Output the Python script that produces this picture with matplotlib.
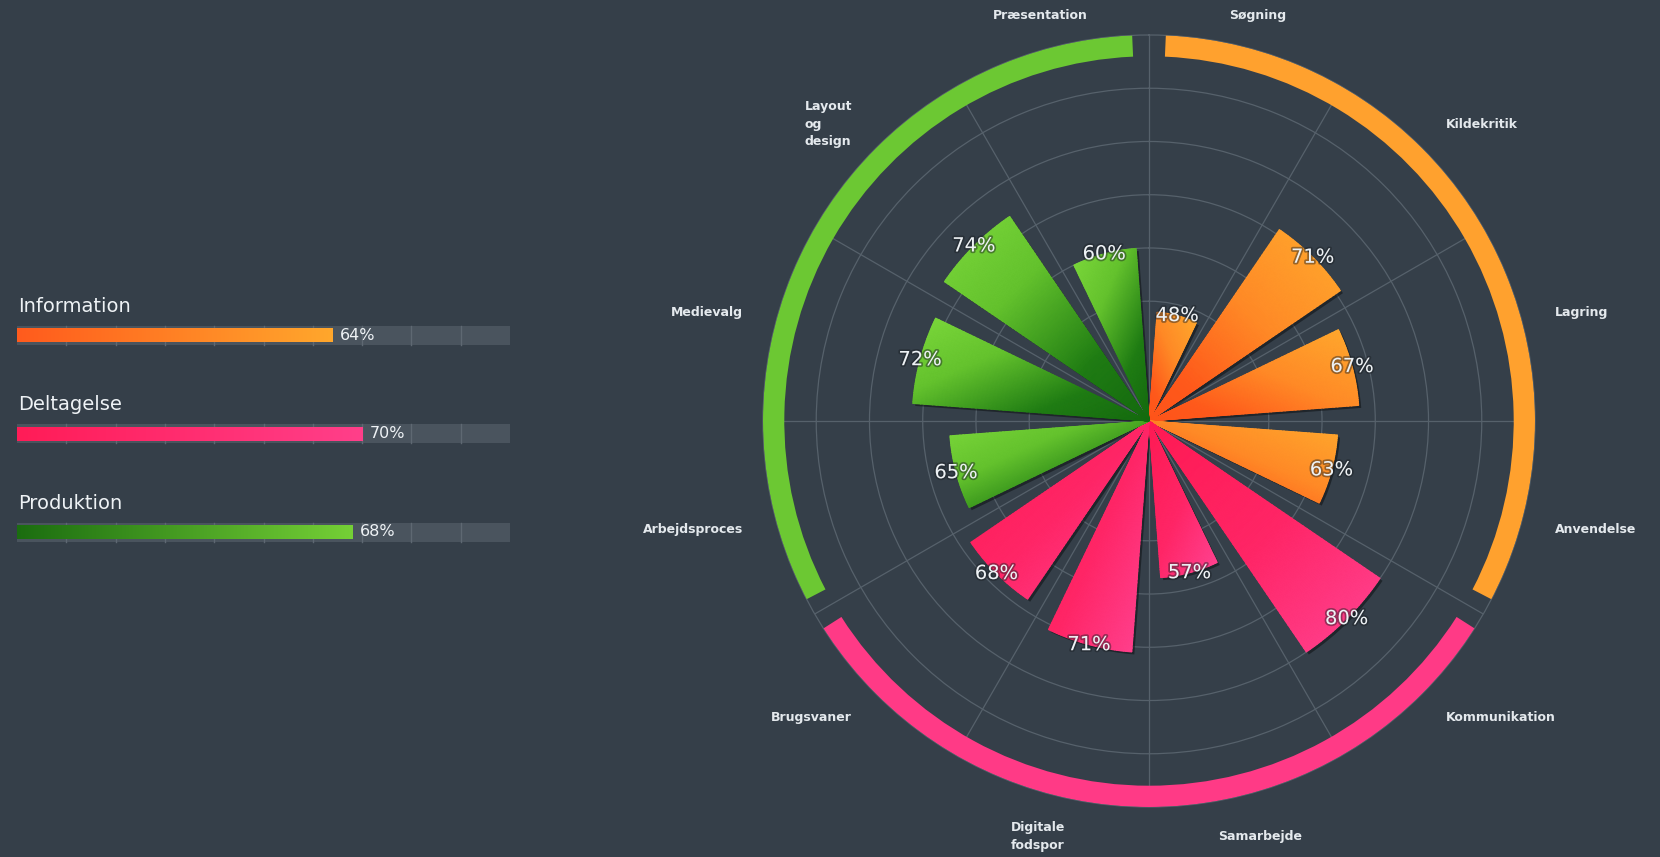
import numpy as np
import matplotlib
matplotlib.use('Agg')
import matplotlib.pyplot as plt
from matplotlib.colors import LinearSegmentedColormap
from matplotlib import patheffects as pe
from matplotlib.transforms import offset_copy

# ---- data ----
categories = ['Søgning', 'Kildekritik', 'Lagring', 'Anvendelse',
              'Kommunikation', 'Samarbejde', 'Digitale\nfodspor', 'Brugsvaner',
              'Arbejdsproces', 'Medievalg', 'Layout\nog\ndesign', 'Præsentation']
values = [48, 71, 67, 63, 80, 57, 71, 68, 65, 72, 74, 60]
group_idx = [0, 0, 0, 0, 1, 1, 1, 1, 2, 2, 2, 2]
groups = ['Information', 'Deltagelse', 'Produktion']
group_values = [64, 70, 68]

# ---- style ----
W, H = 1660, 857
bg = '#353f49'
grid_col = '#56616b'
txt_col = '#eef2f5'
bar_grad = [
    [(0, '#ffaa2d'), (0.45, '#ff8a26'), (0.8, '#ff5a1b'), (1, '#ff5419')],
    [(0, '#ff1a54'), (0.5, '#ff2566'), (1, '#ff4493')],
    [(0, '#7cd83b'), (0.35, '#64c22d'), (0.72, '#1f7c13'), (1, '#146a0e')],
]
ring_cols = ['#ffa12e', '#ff3a86', '#6cc833']
legend_grad = [('#ff5b1d', '#ffa72c'), ('#ff1c57', '#ff3f8a'), ('#1b6d10', '#75d036')]

R0, RMAX = 27.5, 100
cx, cy, rpx = 1149, 421, 386

fig = plt.figure(figsize=(W / 100, H / 100), dpi=100)
fig.patch.set_facecolor(bg)

ax = fig.add_axes([(cx - rpx) / W, (H - cy - rpx) / H, 2 * rpx / W, 2 * rpx / H],
                  projection='polar')
ax.set_facecolor('none')
ax.set_theta_zero_location('N')
ax.set_theta_direction(-1)
ax.set_xticks(np.deg2rad(np.arange(0, 360, 30)))
ax.set_xticklabels([])
ax.set_yticks([50, 60, 70, 80, 90])
ax.set_yticklabels([])
ax.tick_params(length=0)
ax.grid(color=grid_col, lw=0.9)
ax.spines['polar'].set_color(grid_col)
ax.spines['polar'].set_linewidth(0.9)

width = np.deg2rad(21.5)
shadow_tr = offset_copy(ax.transData, fig=fig, x=2.5, y=-2.5, units='dots')

for i, v in enumerate(values):
    g = group_idx[i]
    tc = np.deg2rad(15 + 30 * i)
    # shadow
    ax.bar(tc, v - R0, width=width, bottom=R0, color='#0d1114', alpha=0.55,
           transform=shadow_tr, zorder=2, linewidth=0)
    # gradient fill (diagonal gradient over the bar's bounding box)
    th = np.linspace(tc - width / 2, tc + width / 2, 41)
    rr = np.linspace(R0, v, 61)
    T, R = np.meshgrid(th, rr)
    x = (R - R0) * np.sin(T)
    y = (R - R0) * np.cos(T)
    u = (x - x.min()) / (x.max() - x.min())
    d = (y.max() - y) / (y.max() - y.min())
    if g == 0:
        t = ((1 - u) + d) / 2
    else:
        t = (u + d) / 2
    cm = LinearSegmentedColormap.from_list('g%d' % g, bar_grad[g])
    ax.pcolormesh(T, R, t, cmap=cm, vmin=0, vmax=1, shading='gouraud', zorder=3)
    # value label
    ax.text(tc, v, '%d%%' % v, ha='center', va='center', fontsize=14,
            color=txt_col, zorder=6,
            path_effects=[pe.withStroke(linewidth=2.5, foreground='#1a1f24', alpha=0.45)])

# outer group ring
for g in range(3):
    ax.bar(np.deg2rad(60 + 120 * g), RMAX - 96, width=np.deg2rad(115), bottom=96,
           color=ring_cols[g], zorder=4, linewidth=0)

ax.set_ylim(R0, RMAX)

# category labels
scale = rpx / (RMAX - R0)
for i, name in enumerate(categories):
    ang = 15 + 30 * i
    a = np.deg2rad(ang)
    s, c = np.sin(a), np.cos(a)
    off = 420 + (10 if c < -0.9 else 0)
    r_lab = R0 + off / scale
    if abs(s) < 0.3:
        ha = 'center'
    elif s > 0:
        ha = 'left'
    else:
        ha = 'right'
    ax.text(a, r_lab, name, ha=ha, va='center', ma='left', fontsize=9,
            fontweight='bold', color='#e4e9ed', clip_on=False, linespacing=1.45)

# ---- left legend panel ----
lax = fig.add_axes([17 / W, 0, 493 / W, 1])
lax.axis('off')
for k, (name, gv) in enumerate(zip(groups, group_values)):
    ly = 306 + 98.5 * k
    ty = ly + 29
    lax.barh(ty, 100, height=19, left=0, color='#4a545e', zorder=1)
    for xs in range(10, 100, 10):
        lax.plot([xs, xs], [ty - 9.5, ty + 9.5], color='#5e6872', lw=1.0, zorder=2)
    cm = LinearSegmentedColormap.from_list('l%d' % k, legend_grad[k])
    lax.imshow(np.linspace(0, 1, 256)[None, :], cmap=cm, aspect='auto',
               extent=(0, gv, ty + 7, ty - 7), zorder=3)
    lax.text(gv + 1.5, ty, '%d%%' % gv, ha='left', va='center', fontsize=11.5,
             color=txt_col, zorder=4)
    lax.text(0.2, ly, name, ha='left', va='center', fontsize=14, color=txt_col)
lax.set_xlim(0, 100)
lax.set_ylim(H, 0)

fig.savefig('out.png', dpi=100, facecolor=bg)
